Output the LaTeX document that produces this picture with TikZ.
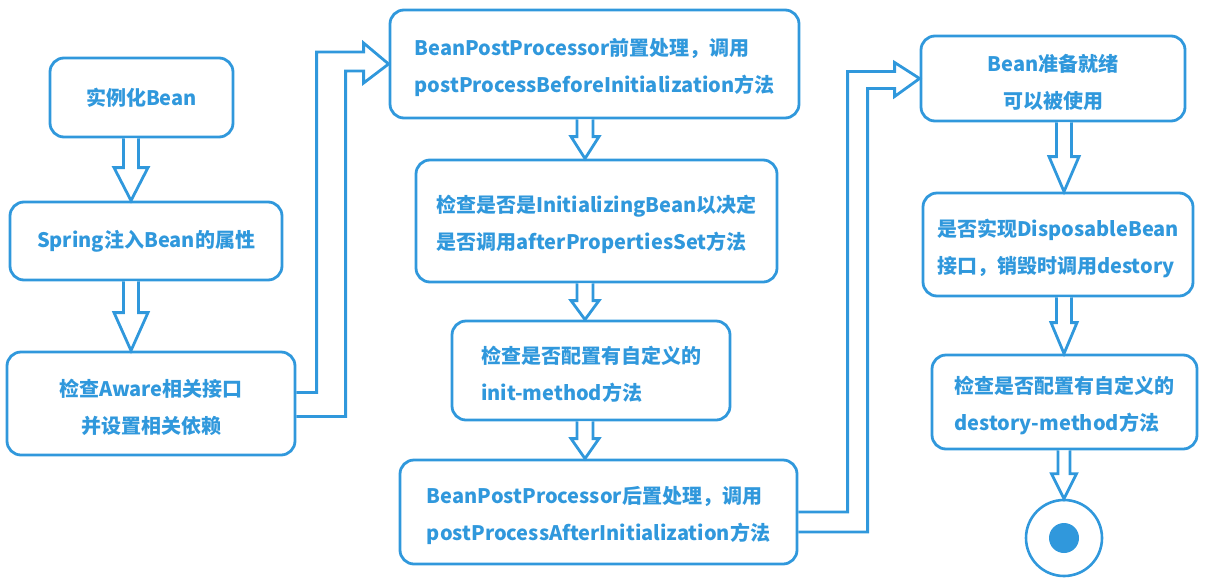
\documentclass[tikz,border=0pt]{standalone}
\usepackage{fontspec}
\setmainfont{Noto Sans CJK SC}
\usetikzlibrary{calc}
\definecolor{beanblue}{RGB}{48,152,220}
\tikzset{
	stage/.style={draw=beanblue, line width=2.8, rounded corners=14, text=beanblue,
		font=\fontsize{20}{37}\selectfont\bfseries},
	hollow/.style={draw=beanblue, line width=2.8, fill=white, line join=miter},
	endpoint/.style={circle, draw=beanblue, line width=2.6, minimum size=76, inner sep=0}
}
\newcommand\topstrut{\rule{0pt}{25pt}}
% from, to, column, shaft half width, head half width, head length
\newcommand\hollowdown[6]{%
	\draw[hollow] ($(#1.south -| #3)+(-#4,0)$) -- ($(#2.north -| #3)+(-#4,-#6)$)
	-- ($(#2.north -| #3)+(-#5,-#6)$) -- (#2.north -| #3)
	-- ($(#2.north -| #3)+(#5,-#6)$) -- ($(#2.north -| #3)+(#4,-#6)$)
	-- ($(#1.south -| #3)+(#4,0)$);}

\begin{document}
\begin{tikzpicture}[x=1pt, y=-1pt]
	\useasboundingbox (0,0) rectangle (1206,584);
	\coordinate (lcol) at (131,0);
	\coordinate (mcol) at (585,0);
	\coordinate (rcol) at (1064,0);

	\node[stage, minimum width=183, minimum height=79, align=center] (inst) at (141.5,97.5) {实例化Bean};
	\node[stage, minimum width=272, minimum height=78, align=center] (inject) at (146,241) {Spring注入Bean的属性};
	\node[stage, minimum width=288, minimum height=103, align=center] (aware) at (151,403.5) {\topstrut{}检查Aware相关接口\\并设置相关依赖};

	\node[stage, minimum width=409, minimum height=108, align=left] (before) at (594.5,64) {\topstrut{}BeanPostProcessor前置处理，调用\\postProcessBeforeInitialization方法};
	\node[stage, minimum width=361, minimum height=122, align=left] (initbean) at (596.5,221) {\topstrut{}检查是否是InitializingBean以决定\\是否调用afterPropertiesSet方法};
	\node[stage, minimum width=278, minimum height=99, align=left] (initmeth) at (591,370.5) {\topstrut{}检查是否配置有自定义的\\init-method方法};
	\node[stage, minimum width=397, minimum height=104, align=left] (after) at (598.5,512) {\topstrut{}BeanPostProcessor后置处理，调用\\postProcessAfterInitialization方法};

	\node[stage, minimum width=264, minimum height=85, align=center] (ready) at (1053,78.5) {\topstrut{}Bean准备就绪\\可以被使用};
	\node[stage, minimum width=270, minimum height=103, align=left] (dispose) at (1058,244.5) {\topstrut{}是否实现DisposableBean\\接口，销毁时调用destory};
	\node[stage, minimum width=265, minimum height=94, align=left] (destroy) at (1064.5,402) {\topstrut{}检查是否配置有自定义的\\destory-method方法};
	\node[endpoint] (stop) at (1064,538) {};
	\fill[beanblue] (stop.center) circle (15);

	\hollowdown{inst}{inject}{lcol}{7.5}{17}{33}
	\hollowdown{inject}{aware}{lcol}{7.5}{17}{38}
	\hollowdown{before}{initbean}{mcol}{8}{14}{22}
	\hollowdown{initbean}{initmeth}{mcol}{8}{14}{19}
	\hollowdown{initmeth}{after}{mcol}{8}{14}{20}
	\hollowdown{ready}{dispose}{rcol}{7.5}{15}{35}
	\hollowdown{dispose}{destroy}{rcol}{7.5}{13}{31}
	\hollowdown{destroy}{stop}{rcol}{6}{12.5}{25}

	\draw[hollow, fill=none] ($(aware.east)+(0,-11)$) -| ($(before.west)+(-72,-12)$)
	-- ($(before.west)+(-25,-12)$) -- ($(before.west)+(-25,-21)$) -- (before.west)
	-- ($(before.west)+(-25,19)$) -- ($(before.west)+(-25,7)$) -- ($(before.west)+(-43,7)$)
	|- ($(aware.east)+(0,13)$);
	\draw[hollow, fill=none] (after.east) -| ($(ready.west)+(-72,-7)$)
	-- ($(ready.west)+(-25,-7)$) -- ($(ready.west)+(-25,-16)$) -- (ready.west)
	-- ($(ready.west)+(-25,18)$) -- ($(ready.west)+(-25,10)$) -- ($(ready.west)+(-52,10)$)
	|- ($(after.east)+(0,20)$);
\end{tikzpicture}
\end{document}
